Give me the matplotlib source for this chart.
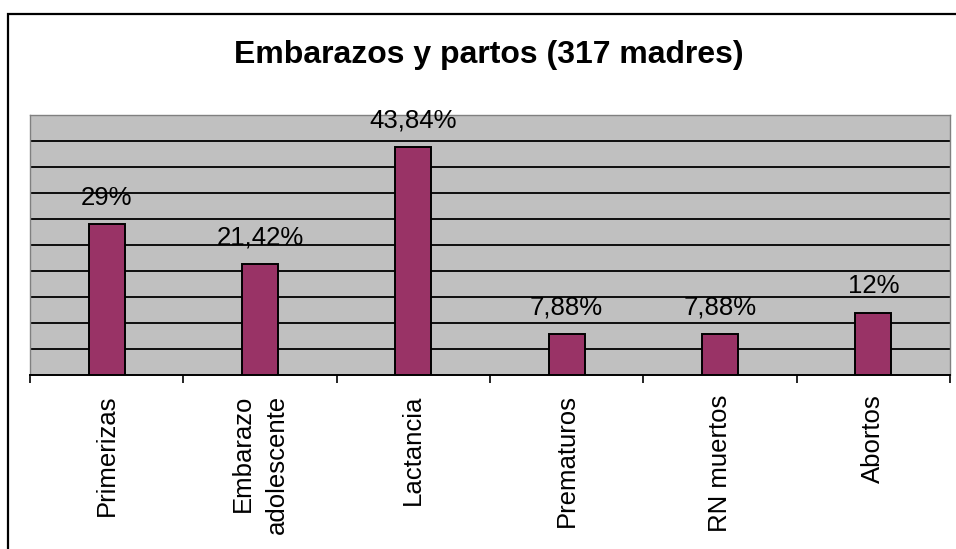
import numpy as np
import matplotlib
matplotlib.use("Agg")
from matplotlib import pyplot as plt
from matplotlib.patches import Rectangle

categories = ["Primerizas", "Embarazo\nadolescente", "Lactancia", "Prematuros", "RN muertos", "Abortos"]
values = [29.0, 21.42, 43.84, 7.88, 7.88, 12.0]
value_labels = ["29%", "21,42%", "43,84%", "7,88%", "7,88%", "12%"]

plt.rcParams["font.family"] = ["Liberation Sans", "DejaVu Sans"]

W, H = 956, 549
fig = plt.figure(figsize=(W / 100, H / 100), dpi=100)

# outer chart border (right and bottom fall outside the picture)
fig.add_artist(Rectangle((8 / W, -0.1), 1.1, 1 - 14 / H + 0.1, transform=fig.transFigure,
                         fill=False, edgecolor="black", linewidth=1.6, clip_on=False))

ax = fig.add_axes([30 / W, 1 - 375 / H, 920 / W, 260 / H])
ax.set_facecolor("#c0c0c0")

x = np.arange(len(categories))
ax.bar(x, values, width=0.235, color="#993366", edgecolor="black", linewidth=1.4, zorder=3)

for xi, v, lab in zip(x, values, value_labels):
    ax.annotate(lab, (xi, v), xytext=(0, 10.5), textcoords="offset points",
                ha="center", va="bottom", fontsize=18.5)

ax.set_xlim(-0.5, len(categories) - 0.5)
ax.set_ylim(0, 50)
ax.set_yticks(np.arange(5, 50, 5))
ax.yaxis.grid(True, color="black", linewidth=1.3, zorder=1)
ax.tick_params(axis="y", length=0, labelleft=False)

ax.set_xticks(x)
ax.set_xticklabels(categories, rotation=90, fontsize=18.5, va="top", ha="center",
                   multialignment="right", linespacing=1.5)
ax.set_xticks(np.arange(-0.5, len(categories), 1), minor=True)
ax.tick_params(axis="x", which="major", length=0, pad=14)
ax.tick_params(axis="x", which="minor", length=6, width=1.2, direction="out")

for s in ["left", "top", "right"]:
    ax.spines[s].set_color("#808080")
    ax.spines[s].set_linewidth(1.0)
ax.spines["bottom"].set_color("black")
ax.spines["bottom"].set_linewidth(1.4)

fig.text(489 / W, 1 - 55 / H, "Embarazos y partos (317 madres)", ha="center", va="center",
         fontsize=23, fontweight="bold")

fig.savefig("out.png", dpi=100)
